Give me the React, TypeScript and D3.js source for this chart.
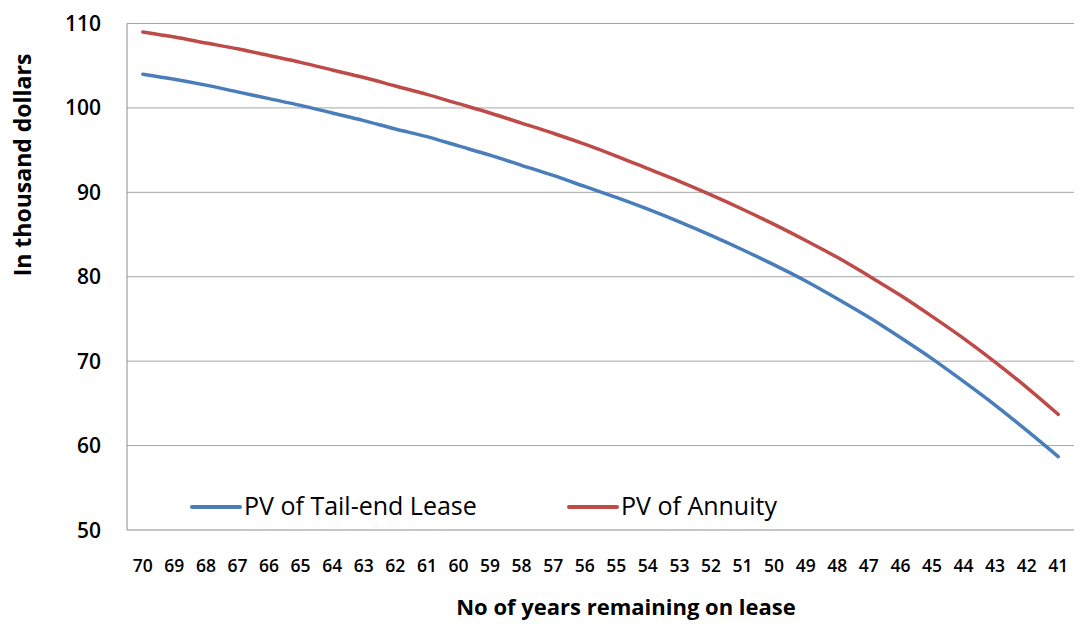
import React from "react";
import * as d3 from "d3";

const years: string[] = ["70","69","68","67","66","65","64","63","62","61","60","59","58","57","56","55","54","53","52","51","50","49","48","47","46","45","44","43","42","41"];
const tailEnd: number[] = [104.0,103.4,102.7,101.9,101.1,100.3,99.4,98.5,97.5,96.6,95.5,94.4,93.2,92.0,90.7,89.4,88.0,86.5,84.9,83.2,81.4,79.5,77.4,75.2,72.8,70.3,67.6,64.8,61.8,58.7];
const annuity: number[] = [109.0,108.4,107.7,107.0,106.2,105.4,104.5,103.6,102.6,101.6,100.5,99.4,98.2,97.0,95.7,94.3,92.8,91.3,89.7,88.0,86.2,84.3,82.3,80.1,77.8,75.3,72.7,69.9,66.9,63.7];
const yTicks: number[] = [50, 60, 70, 80, 90, 100, 110];
const seriesNames: string[] = ["PV of Tail-end Lease", "PV of Annuity"];
const colors: string[] = ["#4A7EBB", "#BE4B48"];

export default function App() {
  const W = 1080, H = 624;
  const left = 127, right = 1074, top = 23.5, bottom = 530;
  const x = d3.scaleBand<string>().domain(years).range([left, right]);
  const y = d3.scaleLinear().domain([50, 110]).range([bottom, top]);
  const cx = (d: string) => (x(d) as number) + x.bandwidth() / 2;
  const line = d3.line<number>()
    .x((_, i) => cx(years[i]))
    .y((v) => y(v))
    .curve(d3.curveMonotoneX);
  const font = "'Open Sans', 'Noto Sans', sans-serif";
  const series = [tailEnd, annuity];
  const legendX = [192, 569];
  return (
    <svg width={W} height={H} style={{ position: "absolute", left: 0, top: 0, background: "#fff" }} fontFamily={font}>
      {yTicks.map((t) => (
        <line key={t} x1={left} x2={right} y1={y(t)} y2={y(t)} stroke={t === 50 ? "#8c8c8c" : "#a6a6a6"} strokeWidth={1} />
      ))}
      <line x1={left} x2={left} y1={top} y2={bottom} stroke="#8c8c8c" strokeWidth={1} />
      {yTicks.map((t) => (
        <text key={t} x={101} y={y(t)} dy="0.36em" textAnchor="end" fontSize={21} fontWeight={600} fill="#000">{t}</text>
      ))}
      {years.map((d) => (
        <text key={d} x={cx(d)} y={566} dy="0.36em" textAnchor="middle" fontSize={17.5} fontWeight={600} fill="#000">{d}</text>
      ))}
      <text transform={`translate(23,165) rotate(-90)`} textAnchor="middle" dy="0.36em" fontSize={23} fontWeight="bold" fill="#000">In thousand dollars</text>
      <text x={626} y={607} dy="0.36em" textAnchor="middle" fontSize={22} fontWeight="bold" fill="#000">No of years remaining on lease</text>
      {series.map((s, k) => (
        <path key={k} d={line(s) || ""} fill="none" stroke={colors[k]} strokeWidth={3.5} strokeLinejoin="round" strokeLinecap="round" />
      ))}
      {seriesNames.map((n, k) => (
        <g key={n}>
          <line x1={legendX[k]} x2={legendX[k] + 48} y1={507} y2={507} stroke={colors[k]} strokeWidth={4} strokeLinecap="round" />
          <text x={legendX[k] + 52} y={506} dy="0.36em" fontSize={25} fill="#000">{n}</text>
        </g>
      ))}
    </svg>
  );
}
